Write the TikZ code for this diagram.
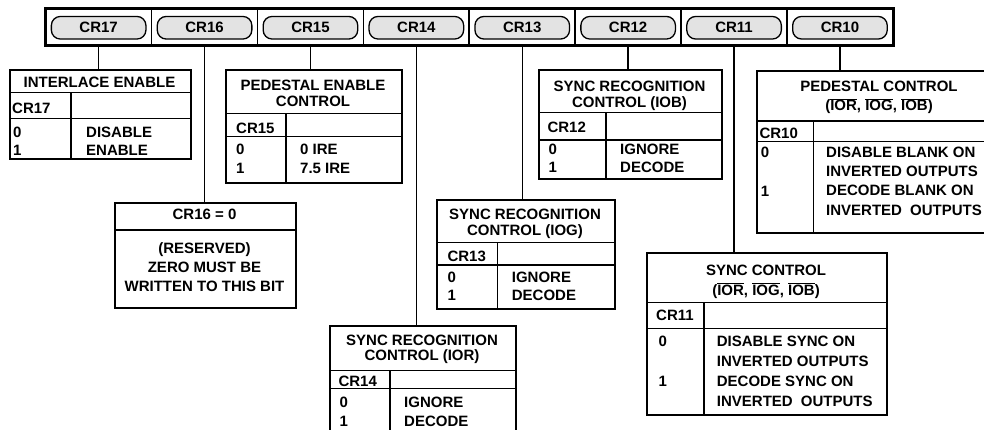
\documentclass[tikz,border=0pt]{standalone}
\usepackage{fontspec}
\setmainfont{Liberation Sans}
\newcommand\ovl[1]{$\overline{\hbox{#1}}$}
\tikzset{
  conn/.style={line width=1.4pt},
  regbox/.style={draw, line width=2pt, inner sep=0pt, anchor=north west},
  rule/.style={line width=1.5pt},
  txt/.style={inner sep=0pt, anchor=base west},
  ctxt/.style={inner sep=0pt, anchor=base},
  pill/.style={draw, fill=gray!22, rounded corners=9pt, line width=1.3pt, minimum width=94.6pt, minimum height=22.6pt, inner sep=0pt},
  cell/.style={draw, line width=1.7pt, minimum width=105.9pt, minimum height=35.7pt, inner sep=0pt}
}
\begin{document}
\begin{tikzpicture}[x=1pt,y=-1pt,font=\fontsize{15}{18}\selectfont\bfseries]
\useasboundingbox (0,0) rectangle (984,430);
\clip (0,0) rectangle (984,430);
\fill[white] (0,0) rectangle (984,430);

% register bar
\foreach \n [count=\i from 0] in {17,16,15,14,13,12,11,10} {
  \node[cell] (c\n) at ({45.7+105.9*(\i+0.5)},27.15) {};
  \node[pill] (p\n) at ([yshift=-0.6pt]c\n.center) {CR\n};
}
\draw[line width=2pt] (c17.north west) rectangle (c10.south east);

% boxes
\node[regbox, minimum width=181pt, minimum height=89.3pt] (b17) at (9,69) {};
\node[regbox, minimum width=176pt, minimum height=112.4pt] (b15) at (225,69.3) {};
\node[regbox, minimum width=181pt, minimum height=105.6pt] (b16) at (114,201.7) {};
\node[regbox, minimum width=186pt, minimum height=120pt] (b14) at (329,325) {};
\node[regbox, minimum width=178pt, minimum height=109pt] (b13) at (436,199.3) {};
\node[regbox, minimum width=182.4pt, minimum height=109pt] (b12) at (538.3,69.3) {};
\node[regbox, minimum width=244pt, minimum height=161.7pt] (b10) at (756,70) {};
\node[regbox, minimum width=240pt, minimum height=162.3pt] (b11) at (646,251.7) {};

% connectors
\foreach \n in {17,16,15,14,13,12,11,10} {
  \draw[conn] (c\n.south) -- (c\n.south |- b\n.north);
}

% CR17 box
\draw[rule] (9,92.3) -- (190,92.3);
\draw[rule] (9,118.3) -- (190,118.3);
\draw[rule] (71,92.3) -- (71,158.3);
\node[ctxt] (t17a) at (99.5,87.4) {INTERLACE ENABLE};
\node[txt] (t17b) at (12,114) {CR17};
\node[txt] (t17c) at (13,137.7) {0};
\node[txt] (t17d) at (13,155.7) {1};
\node[txt] (t17e) at (86,137.7) {DISABLE};
\node[txt] (t17f) at (86,155.7) {ENABLE};

% CR15 box
\draw[rule] (225,113.3) -- (401,113.3);
\draw[rule] (225,136.7) -- (401,136.7);
\draw[rule] (286,113.3) -- (286,181.7);
\node[ctxt] (t15a) at (313,91) {PEDESTAL ENABLE};
\node[ctxt] (t15b) at (313,106.7) {CONTROL};
\node[txt] (t15c) at (236,133.3) {CR15};
\node[txt] (t15d) at (236,155) {0};
\node[txt] (t15e) at (236,173.3) {1};
\node[txt] (t15f) at (300,155) {0 IRE};
\node[txt] (t15g) at (300,173.3) {7.5 IRE};

% CR16 box
\draw[rule] (114,230) -- (295,230);
\node[ctxt] (t16a) at (204.5,220) {CR16 = 0};
\node[ctxt] (t16b) at (204.5,253) {(RESERVED)};
\node[ctxt] (t16c) at (204.5,272) {ZERO MUST BE};
\node[ctxt] (t16d) at (204.5,291) {WRITTEN TO THIS BIT};

% CR14 box
\draw[rule] (329,370.7) -- (515,370.7);
\draw[rule] (329,388.3) -- (515,388.3);
\draw[rule] (390,370.7) -- (390,445);
\node[ctxt] (t14a) at (422,345) {SYNC RECOGNITION};
\node[ctxt] (t14b) at (422,360.7) {CONTROL (IOR)};
\node[txt] (t14c) at (338.3,386.7) {CR14};
\node[txt] (t14d) at (339.3,407.7) {0};
\node[txt] (t14e) at (339.3,426.7) {1};
\node[txt] (t14f) at (404,407.7) {IGNORE};
\node[txt] (t14g) at (404,426.7) {DECODE};

% CR13 box
\draw[rule] (436,242.3) -- (614,242.3);
\draw[rule] (436,265) -- (614,265);
\draw[rule] (497.3,242.3) -- (497.3,308.3);
\node[ctxt] (t13a) at (525,220) {SYNC RECOGNITION};
\node[ctxt] (t13b) at (525,236) {CONTROL (IOG)};
\node[txt] (t13c) at (447.3,261) {CR13};
\node[txt] (t13d) at (447.3,282.7) {0};
\node[txt] (t13e) at (447.3,300) {1};
\node[txt] (t13f) at (511.7,282.7) {IGNORE};
\node[txt] (t13g) at (511.7,300) {DECODE};

% CR12 box
\draw[rule] (538.3,112.7) -- (720.7,112.7);
\draw[rule] (538.3,140) -- (720.7,140);
\draw[rule] (606,112.7) -- (606,178.3);
\node[ctxt] (t12a) at (629.5,91.7) {SYNC RECOGNITION};
\node[ctxt] (t12b) at (629.5,107.3) {CONTROL (IOB)};
\node[txt] (t12c) at (547.3,132.7) {CR12};
\node[txt] (t12d) at (548.3,154.3) {0};
\node[txt] (t12e) at (548.3,172.7) {1};
\node[txt] (t12f) at (620,154.3) {IGNORE};
\node[txt] (t12g) at (620,172.7) {DECODE};

% CR10 box
\draw[rule] (756,121) -- (1000,121);
\draw[rule] (756,141.7) -- (1000,141.7);
\draw[rule] (813.3,121) -- (813.3,231.7);
\node[ctxt] (t10a) at (879,91.7) {PEDESTAL CONTROL};
\node[ctxt] (t10b) at (879,111) {(\ovl{IOR}, \ovl{IOG}, \ovl{IOB})};
\node[txt] (t10c) at (759.3,138.3) {CR10};
\node[txt] (t10d) at (760.7,158) {0};
\node[txt] (t10e) at (760.7,197) {1};
\node[txt] (t10f) at (826,157.5) {DISABLE BLANK ON};
\node[txt] (t10g) at (826,176.7) {INVERTED OUTPUTS};
\node[txt] (t10h) at (826,196) {DECODE BLANK ON};
\node[txt] (t10i) at (826,215) {INVERTED\hspace{4pt} OUTPUTS};

% CR11 box
\draw[rule] (646,302.7) -- (886,302.7);
\draw[rule] (646,328.3) -- (886,328.3);
\draw[rule] (704,302.7) -- (704,414);
\node[ctxt] (t11a) at (766,275) {SYNC CONTROL};
\node[ctxt] (t11b) at (766,295) {(\ovl{IOR}, \ovl{IOG}, \ovl{IOB})};
\node[txt] (t11c) at (656,320) {CR11};
\node[txt] (t11d) at (658.3,346.7) {0};
\node[txt] (t11e) at (658.3,386.7) {1};
\node[txt] (t11f) at (716.7,346.7) {DISABLE SYNC ON};
\node[txt] (t11g) at (716.7,366.7) {INVERTED OUTPUTS};
\node[txt] (t11h) at (716.7,386.7) {DECODE SYNC ON};
\node[txt] (t11i) at (716.7,406) {INVERTED\hspace{4pt} OUTPUTS};
\end{tikzpicture}
\end{document}
